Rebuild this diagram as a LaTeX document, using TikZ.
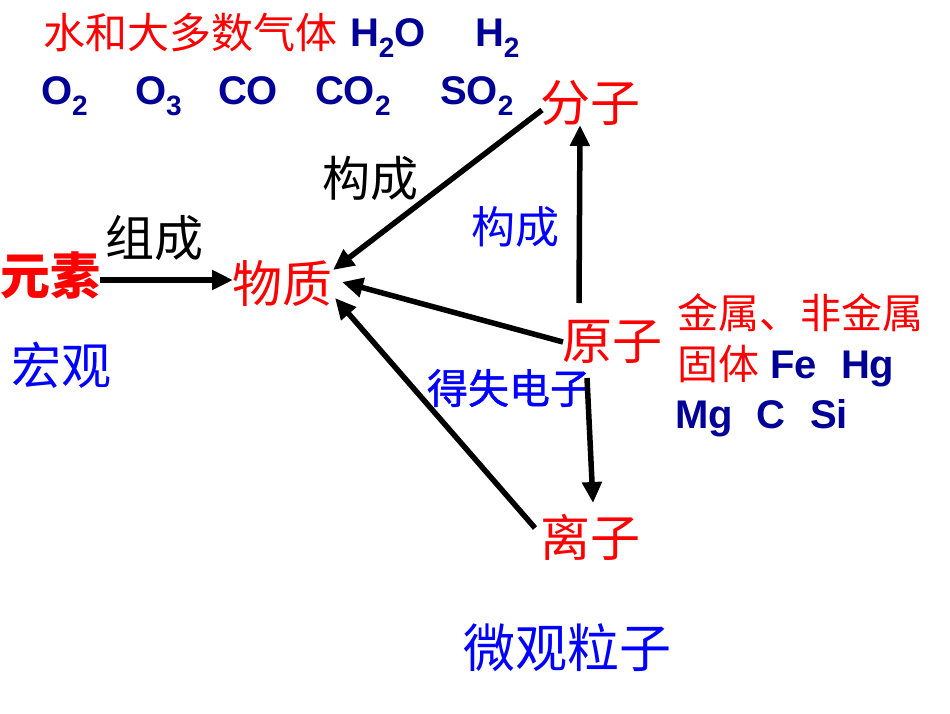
\documentclass[tikz,border=0pt]{standalone}
\usepackage{fontspec}
\setmainfont{Liberation Sans}
\newfontfamily\cjk{Noto Sans CJK SC}
\newfontfamily\cjkmid{Noto Sans CJK SC}[FakeBold=1]
\usetikzlibrary{arrows.meta}
\definecolor{cred}{RGB}{255,0,0}
\definecolor{cblue}{RGB}{0,0,255}
\definecolor{cnavy}{RGB}{0,0,150}
\newcommand\fs[1]{\fontsize{#1}{#1}\selectfont}
\newcommand\chemsub[1]{\raisebox{-11pt}{\fs{28}#1}}
\begin{document}
\begin{tikzpicture}[x=1pt,y=-1pt,
  lbl/.style={inner sep=0pt, outer sep=0pt},
  concept/.style={lbl, text=cred, font=\cjk\fs{50}},
  formula/.style={lbl, anchor=base west, text=cnavy, font=\bfseries\fs{40}},
  link/.style={line width=5.5pt, -{Triangle[length=21pt,width=19pt]}}]
\fill[white] (0,0) rectangle (950,713);
\useasboundingbox (0,0) rectangle (950,713);

% concepts
\node[concept] (fenzi) at (590,103) {分子};
\node[concept] (wuzhi) at (282,283) {物质};
\node[concept, font=\cjk\bfseries\fs{50}] (yuansu) at (50,275) {元素};
\node[concept] (yuanzi) at (612,342) {原子};
\node[concept] (lizi) at (590,537) {离子};

% labels
\node[lbl, font=\cjk\fs{49}] (zucheng) at (154,238) {组成};
\node[lbl, font=\cjk\fs{48}] (gouA) at (370,178) {构成};
\node[lbl, text=cblue, font=\cjk\fs{44}] (gouB) at (515,227) {构成};
\node[lbl, text=cblue, font=\cjk\fs{50}] (hong) at (61,365) {宏观};
\node[lbl, text=cblue, font=\cjkmid\fs{41}] (deshi) at (509,388) {得失电子};
\node[lbl, text=cblue, font=\cjk\fs{52}] (weiguan) at (567,648) {微观粒子};

% top examples
\node[lbl, anchor=base west, text=cred, font=\cjk\fs{42}] (gas) at (43,48) {水和大多数气体};
\node[formula] (h2o) at (350,46) {H\chemsub{2}O};
\node[formula] (h2) at (475,46) {H\chemsub{2}};
\node[formula] (o2) at (41,104) {O\chemsub{2}};
\node[formula] (o3) at (135,104) {O\chemsub{3}};
\node[formula] (co) at (218,104) {CO};
\node[formula] (co2) at (315,104) {CO\chemsub{2}};
\node[formula] (so2) at (440,104) {SO\chemsub{2}};

% right examples
\node[lbl, anchor=west, text=cred, font=\cjk\fs{41}] (jinshu) at (677,313) {金属、非金属};
\node[lbl, anchor=west, text=cred, font=\cjk\fs{41}] (guti) at (677,364) {固体};
\node[formula] (fe) at (770,378) {Fe};
\node[formula] (hg) at (841,378) {Hg};
\node[formula] (mg) at (675,428) {Mg};
\node[formula] (c) at (756,428) {C};
\node[formula] (si) at (810,428) {Si};

% connectors
\draw[link] ([shift={(50,5)}]yuansu.center) -- ([shift={(-49,-3)}]wuzhi.center);
\draw[link] ([shift={(-48,7)}]fenzi.center) -- ([shift={(51,-13)}]wuzhi.center);
\draw[link] ([shift={(-49,0)}]yuanzi.center) -- ([shift={(60,-1)}]wuzhi.center);
\draw[link] ([shift={(-55,-9)}]lizi.center) -- ([shift={(53,15)}]wuzhi.center);
\draw[link] ([shift={(-33,-39)}]yuanzi.center) -- ([shift={(-10,22)}]fenzi.center);
\draw[link] ([shift={(-25,36)}]yuanzi.center) -- ([shift={(3,-34)}]lizi.center);
\end{tikzpicture}
\end{document}
